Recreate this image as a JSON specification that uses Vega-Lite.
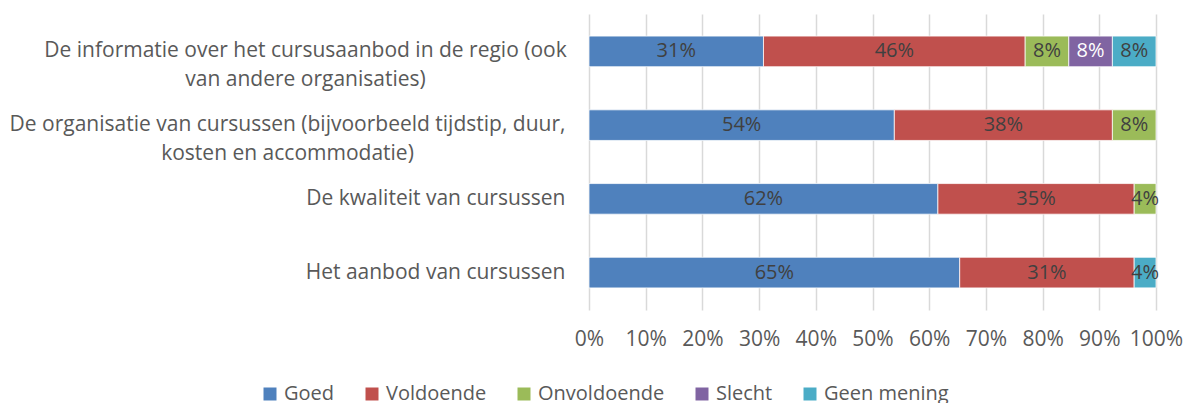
{
  "$schema": "https://vega.github.io/schema/vega-lite/v6.json",
  "autosize": "none",
  "width": 567,
  "height": 296,
  "padding": {"left": 589, "top": 14, "right": 28, "bottom": 93},
  "background": "white",
  "config": {
    "font": "Open Sans",
    "view": {"stroke": null},
    "axis": {"labelFont": "Open Sans", "labelColor": "#595959", "labelFontSize": 21, "titleFont": "Open Sans"},
    "legend": {"labelFont": "Open Sans", "labelColor": "#595959", "labelFontSize": 20}
  },
  "data": {
    "values": [
      {"cat": "De informatie over het cursusaanbod in de regio (ook|van andere organisaties)", "r": "Goed", "pct": 30.77},
      {"cat": "De informatie over het cursusaanbod in de regio (ook|van andere organisaties)", "r": "Voldoende", "pct": 46.15},
      {"cat": "De informatie over het cursusaanbod in de regio (ook|van andere organisaties)", "r": "Onvoldoende", "pct": 7.69},
      {"cat": "De informatie over het cursusaanbod in de regio (ook|van andere organisaties)", "r": "Slecht", "pct": 7.69},
      {"cat": "De informatie over het cursusaanbod in de regio (ook|van andere organisaties)", "r": "Geen mening", "pct": 7.69},
      {"cat": "De organisatie van cursussen (bijvoorbeeld tijdstip, duur,|kosten en accommodatie)", "r": "Goed", "pct": 53.85},
      {"cat": "De organisatie van cursussen (bijvoorbeeld tijdstip, duur,|kosten en accommodatie)", "r": "Voldoende", "pct": 38.46},
      {"cat": "De organisatie van cursussen (bijvoorbeeld tijdstip, duur,|kosten en accommodatie)", "r": "Onvoldoende", "pct": 7.69},
      {"cat": "De kwaliteit van cursussen", "r": "Goed", "pct": 61.54},
      {"cat": "De kwaliteit van cursussen", "r": "Voldoende", "pct": 34.62},
      {"cat": "De kwaliteit van cursussen", "r": "Onvoldoende", "pct": 3.85},
      {"cat": "Het aanbod van cursussen", "r": "Goed", "pct": 65.38},
      {"cat": "Het aanbod van cursussen", "r": "Voldoende", "pct": 30.77},
      {"cat": "Het aanbod van cursussen", "r": "Geen mening", "pct": 3.85}
    ]
  },
  "transform": [
    {"calculate": "indexof(['Goed','Voldoende','Onvoldoende','Slecht','Geen mening'], datum.r)", "as": "k"},
    {"stack": "pct", "groupby": ["cat"], "sort": [{"field": "k", "order": "ascending"}], "offset": "normalize", "as": ["v0", "v1"]},
    {"calculate": "(datum.v0 + datum.v1) / 2", "as": "mid"},
    {"calculate": "format(datum.pct / 100, '.0%')", "as": "lab"}
  ],
  "encoding": {
    "y": {
      "field": "cat", "type": "nominal", "sort": null,
      "scale": {"paddingInner": 0.585, "paddingOuter": 0.3},
      "axis": {
        "title": null, "ticks": false, "domain": false, "labelLimit": 700,
        "labelLineHeight": 29,
        "labelExpr": "split(datum.label, '|')",
        "labelAlign": {"condition": {"test": "indexof(datum.value, '|') >= 0", "value": "center"}, "value": "right"},
        "labelPadding": {"condition": [
          {"test": "indexof(datum.value, 'informatie') >= 0", "value": 284},
          {"test": "indexof(datum.value, 'organisatie van') >= 0", "value": 302}
        ], "value": 24}
      }
    }
  },
  "layer": [
    {
      "mark": {"type": "bar", "stroke": "white", "strokeWidth": 0.75},
      "encoding": {
        "x": {
          "field": "v0", "type": "quantitative",
          "scale": {"domain": [0, 1], "nice": false},
          "axis": {"title": null, "format": ".0%", "values": [0,0.1,0.2,0.3,0.4,0.5,0.6,0.7,0.8,0.9,1],
                   "labelOverlap": false, "labelFlush": false,
                   "domain": false, "ticks": false, "grid": true, "gridColor": "#d9d9d9", "gridWidth": 1.5, "labelPadding": 18}
        },
        "x2": {"field": "v1"},
        "color": {
          "field": "r", "type": "nominal",
          "scale": {"domain": ["Goed", "Voldoende", "Onvoldoende", "Slecht", "Geen mening"],
                    "range": ["#4F81BD", "#C0504D", "#9BBB59", "#8064A2", "#4BACC6"]},
          "legend": {"title": null, "orient": "none", "legendX": -329, "legendY": 370, "direction": "horizontal",
                     "symbolType": "square", "symbolSize": 169, "symbolStrokeWidth": 0, "columnPadding": 27, "labelOffset": 4}
        }
      }
    },
    {
      "mark": {"type": "text", "fontSize": 20, "font": "Open Sans"},
      "encoding": {
        "x": {"field": "mid", "type": "quantitative"},
        "text": {"field": "lab", "type": "nominal"},
        "color": {"condition": {"test": "datum.r === 'Slecht'", "value": "white"}, "value": "#404040"}
      }
    }
  ]
}
